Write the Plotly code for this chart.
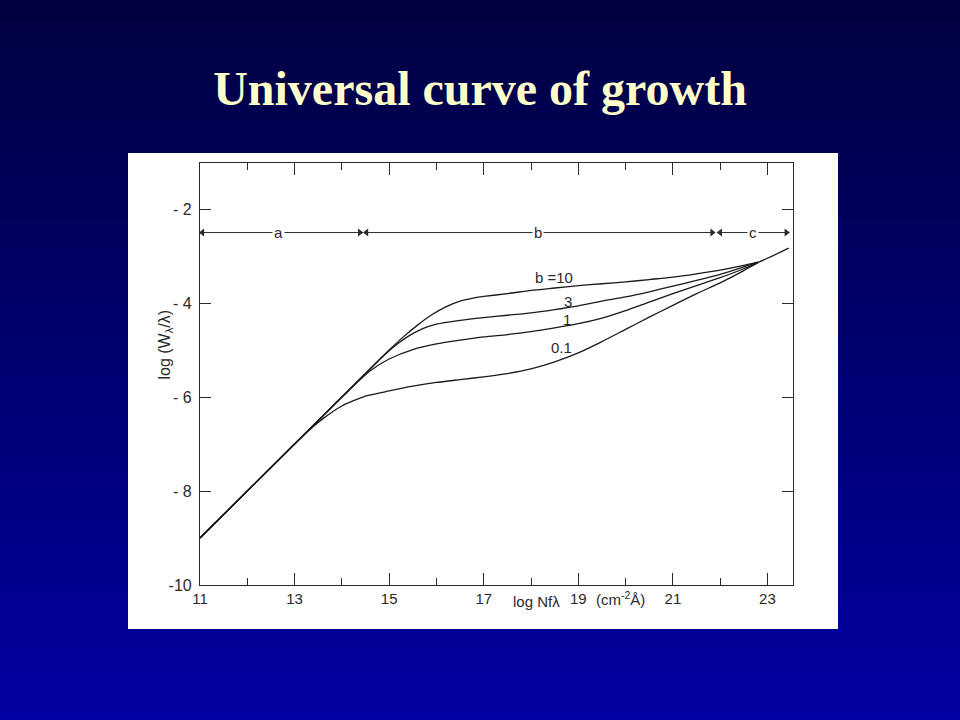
import plotly.graph_objects as go

# ---- data ----
x_b01 = [11.0, 12.0, 13.0, 13.3, 13.6, 14.0, 14.5, 15.0, 15.5, 16.0, 16.5, 17.0, 17.5, 18.0,
         18.5, 19.0, 19.5, 20.0, 20.5, 21.0, 21.5, 22.0, 22.5, 22.8, 23.1, 23.45]
y_b01 = [-9.0, -8.0, -7.0, -6.71, -6.46, -6.19, -5.98, -5.87, -5.77, -5.69, -5.63, -5.57, -5.50, -5.40,
         -5.25, -5.06, -4.82, -4.56, -4.30, -4.05, -3.80, -3.57, -3.31, -3.14, -3.00, -2.83]

x_b1 = [11.0, 12.0, 13.0, 14.0, 14.3, 14.6, 15.0, 15.5, 16.0, 16.5, 17.0, 17.5, 18.0, 18.5,
        19.0, 19.5, 20.0, 20.5, 21.0, 21.5, 22.0, 22.5, 22.8]
y_b1 = [-9.0, -8.0, -7.0, -6.0, -5.71, -5.44, -5.19, -4.99, -4.87, -4.79, -4.72, -4.67, -4.61, -4.53,
        -4.44, -4.32, -4.16, -3.98, -3.80, -3.63, -3.46, -3.27, -3.14]

x_b3 = [11.0, 12.0, 13.0, 14.0, 14.8, 15.1, 15.4, 15.7, 16.0, 16.5, 17.0, 17.5, 18.0, 18.5,
        19.0, 19.5, 20.0, 20.5, 21.0, 21.5, 22.0, 22.5, 22.8]
y_b3 = [-9.0, -8.0, -7.0, -6.0, -5.20, -4.93, -4.71, -4.55, -4.45, -4.37, -4.31, -4.26, -4.21, -4.14,
        -4.06, -3.96, -3.87, -3.76, -3.64, -3.52, -3.39, -3.23, -3.13]

x_b10 = [11.0, 12.0, 13.0, 14.0, 15.0, 15.3, 15.6, 15.9, 16.2, 16.5, 16.8, 17.0, 17.5, 18.0, 18.5,
         19.0, 19.5, 20.0, 20.5, 21.0, 21.5, 22.0, 22.5, 22.8]
y_b10 = [-9.0, -8.0, -7.0, -6.0, -5.0, -4.72, -4.47, -4.25, -4.08, -3.96, -3.89, -3.86, -3.80, -3.73, -3.68,
         -3.63, -3.59, -3.55, -3.50, -3.45, -3.38, -3.30, -3.20, -3.13]

curve_labels = ["b =10", "3", "1", "0.1"]
label_x = [18.48, 18.78, 18.76, 18.65]
label_y = [-3.45, -3.96, -4.34, -4.94]

# regime arrows
regime_names = ["a", "b", "c"]
regime_start = [11.05, 14.52, 22.0]
regime_end = [14.38, 21.83, 23.4]
regime_label_x = [12.65, 18.15, 22.7]
regime_y = -2.5

x_tickvals = [11, 13, 15, 17, 19, 21, 23]
x_ticktext = ["11", "13", "15", "17", "19", "21", "23"]
y_tickvals = [-10, -8, -6, -4, -2]
y_ticktext = ["-10", "- 8", "- 6", "- 4", "- 2"]

W, H = 960, 720
px_l, px_r, px_t, px_b = 200, 793, 163, 585
INK = "#2a2a2a"
SANS = "Liberation Sans"

fig = go.Figure()

line_style = dict(color="#1a1a1a", width=1.3, shape="spline", smoothing=0.6)
for xs, ys in [(x_b10, y_b10), (x_b3, y_b3), (x_b1, y_b1), (x_b01, y_b01)]:
    fig.add_trace(go.Scatter(x=xs, y=ys, mode="lines", line=line_style,
                             showlegend=False, hoverinfo="skip"))

for s, e in zip(regime_start, regime_end):
    fig.add_trace(go.Scatter(x=[s, e], y=[regime_y, regime_y], mode="lines+markers",
                             line=dict(color=INK, width=1),
                             marker=dict(symbol=["triangle-left", "triangle-right"], size=7, color=INK),
                             showlegend=False, hoverinfo="skip"))

shapes = []
n = 72
for i in range(n):
    t = i / (n - 1)
    b = int(round(64 + (160 - 64) * t))
    shapes.append(dict(type="rect", xref="paper", yref="paper",
                       x0=0, x1=1, y0=1 - (i + 1) / n, y1=1 - i / n,
                       fillcolor=f"rgb(0,0,{b})", line=dict(width=0), layer="below"))
shapes.append(dict(type="rect", xref="paper", yref="paper",
                   x0=128 / W, x1=838 / W, y0=1 - 629 / H, y1=1 - 153 / H,
                   fillcolor="white", line=dict(width=0), layer="below"))

annotations = []
for t, lx, ly in zip(curve_labels, label_x, label_y):
    annotations.append(dict(x=lx, y=ly, xref="x", yref="y", text=t, showarrow=False,
                            font=dict(family=SANS, size=15, color=INK)))
for nm, lx in zip(regime_names, regime_label_x):
    annotations.append(dict(x=lx, y=regime_y, xref="x", yref="y", text=nm, showarrow=False,
                            bgcolor="white", borderpad=1,
                            font=dict(family=SANS, size=15, color=INK)))
annotations.append(dict(x=153 / W, y=1 - 345 / H, xref="paper", yref="paper",
                        text="log (W<sub>λ</sub>/λ)", textangle=-90, showarrow=False,
                        font=dict(family=SANS, size=16, color=INK)))
annotations.append(dict(x=536 / W, y=1 - 612 / H, xref="paper", yref="paper",
                        text="log Nfλ", showarrow=False,
                        font=dict(family=SANS, size=15, color=INK)))
annotations.append(dict(x=620 / W, y=1 - 610 / H, xref="paper", yref="paper",
                        text="(cm<sup>-2</sup>Å)", showarrow=False,
                        font=dict(family=SANS, size=15, color=INK)))

axis_common = dict(showline=True, linecolor=INK, linewidth=1.2, mirror="allticks",
                   ticks="inside", tickcolor=INK, showgrid=False, zeroline=False,
                   automargin=False)

fig.update_layout(
    width=W, height=H, autosize=False,
    margin=dict(l=0, r=0, t=0, b=0, pad=0, autoexpand=False),
    paper_bgcolor="rgb(0,0,64)", plot_bgcolor="white",
    showlegend=False,
    shapes=shapes, annotations=annotations,
    title=dict(text="<b>Universal curve of growth</b>", x=0.5, xanchor="center",
               y=1 - 88 / H, yanchor="middle", yref="container",
               font=dict(family="Liberation Serif", size=48, color="#FFFFCC")),
    xaxis=dict(range=[11, 23.54], domain=[px_l / W, px_r / W], tickvals=x_tickvals,
               ticktext=x_ticktext, ticklen=12,
               tickfont=dict(family=SANS, size=15, color=INK),
               minor=dict(dtick=1, ticks="inside", ticklen=7, tickcolor=INK, showgrid=False),
               **axis_common),
    yaxis=dict(range=[-10, -1.02], domain=[1 - px_b / H, 1 - px_t / H], tickvals=y_tickvals,
               ticktext=y_ticktext, ticklen=11, ticklabelstandoff=4,
               tickfont=dict(family=SANS, size=16, color=INK),
               **axis_common),
)

fig.write_html("out.html", config={"displayModeBar": False},
               post_script="document.body.style.margin='0px';document.body.style.overflow='hidden';")
